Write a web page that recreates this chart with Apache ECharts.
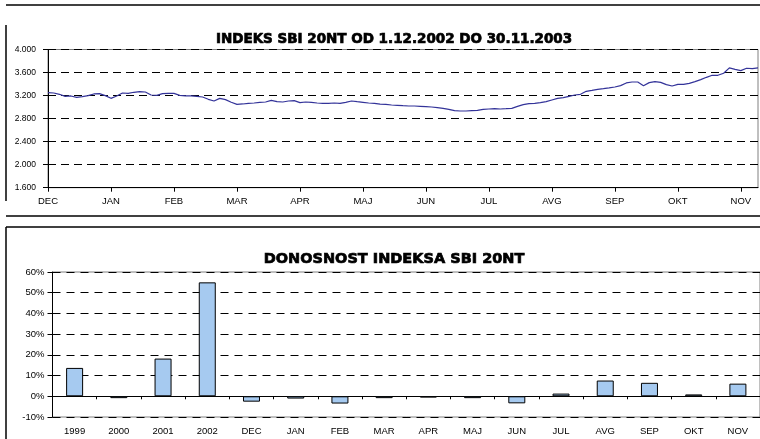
<!DOCTYPE html>
<html>
<head>
<meta charset="utf-8">
<script src="https://cdn.jsdelivr.net/npm/echarts@6/dist/echarts.min.js"></script>
<style>html,body{margin:0;padding:0;background:#fff}#c{width:760px;height:439px}</style>
</head>
<body>
<div id="c"></div>
<script>
// Top chart: SBI 20NT index, 1.12.2002 - 30.11.2003 (sampled trading days)
var monthLabels = ['DEC','JAN','FEB','MAR','APR','MAJ','JUN','JUL','AVG','SEP','OKT','NOV'];
var indexValues = [
  3251,3245,3222,3187,3193,3170,3181,3199,3228,3233,3199,3152,3193,3245,3239,3257,3268,3262,3210,3204,
  3233,3239,3239,3204,3193,3193,3187,3175,3135,3106,3152,3129,3083,3048,3054,3065,3071,3083,3088,3117,
  3094,3088,3106,3112,3077,3088,3083,3071,3065,3065,3071,3065,3083,3106,3094,3083,3071,3065,3053,3048,
  3036,3030,3024,3019,3019,3013,3007,3001,2990,2978,2961,2938,2932,2932,2938,2943,2961,2967,2972,2967,
  2972,2978,3013,3042,3059,3065,3077,3094,3123,3152,3164,3187,3210,3222,3274,3291,3309,3320,3332,3349,
  3372,3419,3436,3436,3372,3425,3442,3430,3390,3366,3395,3395,3413,3442,3477,3517,3552,3552,3587,3680,
  3656,3633,3674,3668,3680
];
var pointsPerMonth = 11;
// Bottom chart: returns
var barCategories = ['1999','2000','2001','2002','DEC','JAN','FEB','MAR','APR','MAJ','JUN','JUL','AVG','SEP','OKT','NOV'];
var barValues = [13.7,-0.9,18.2,55.0,-2.6,-1.1,-3.5,-0.9,-0.6,-0.9,-3.4,1.3,7.6,6.5,0.9,6.1];

var titleTop = 'INDEKS SBI 20NT OD 1.12.2002 DO 30.11.2003';
var titleBottom = 'DONOSNOST INDEKSA SBI 20NT';

var idx = indexValues.map(function(_, i){ return String(i); });
var FONT = 'Liberation Sans, Arial, sans-serif';

var chart = echarts.init(document.getElementById('c'), null, {renderer:'canvas'});
chart.setOption({
  animation: false,
  backgroundColor: '#fff',
  title: [
    {text: titleTop, left: 389, top: 27, textAlign: 'center',
     textStyle:{fontFamily:'DejaVu Sans', fontWeight:'bold', fontSize:13.5, color:'#000',
       textBorderColor:'#000', textBorderWidth:0.7}},
    {text: titleBottom, left: 389, top: 247, textAlign: 'center',
     textStyle:{fontFamily:'DejaVu Sans', fontWeight:'bold', fontSize:14.5, color:'#000',
       textBorderColor:'#000', textBorderWidth:0.7}}
  ],
  graphic: [
    {type:'polyline', shape:{points:[[6,25],[6,201]]}, style:{stroke:'#000', lineWidth:1.5}, silent:true},
    {type:'polyline', shape:{points:[[6,5],[760,5]]}, style:{stroke:'#000', lineWidth:1.5}, silent:true},
    {type:'polyline', shape:{points:[[6,216],[760,216]]}, style:{stroke:'#000', lineWidth:1.5}, silent:true},
    {type:'polyline', shape:{points:[[6,227],[760,227]]}, style:{stroke:'#000', lineWidth:1.5}, silent:true},
    {type:'polyline', shape:{points:[[6,227],[6,439]]}, style:{stroke:'#000', lineWidth:1.5}, silent:true}
  ],
  grid: [
    {left:48, top:49.5, right:2, bottom:251.3, show:true, borderColor:'#808080', borderWidth:1, backgroundColor:'transparent'},
    {left:52.5, top:272, right:-2, bottom:22, show:true, borderColor:'#808080', borderWidth:1, backgroundColor:'transparent'}
  ],
  xAxis: [
    {gridIndex:0, type:'category', data: idx, boundaryGap:false,
     axisLine:{show:true, lineStyle:{color:'#000', width:1}},
     axisTick:{show:true, interval: pointsPerMonth-1, length:4, lineStyle:{color:'#000'}},
     axisLabel:{interval: pointsPerMonth-1, margin:9, fontFamily:FONT, fontSize:9.5, color:'#000',
       formatter:function(v){ var i=+v; return (i%pointsPerMonth===0) ? (monthLabels[i/pointsPerMonth]||'') : ''; }},
     splitLine:{show:false}},
    {gridIndex:1, type:'category', data: barCategories,
     axisLine:{show:false, onZero:false},
     axisTick:{show:false},
     axisLabel:{margin:9, fontFamily:FONT, fontSize:9.5, color:'#000'},
     splitLine:{show:false}},
    {gridIndex:1, type:'category', data: barCategories, position:'bottom',
     axisLine:{show:true, onZero:true, lineStyle:{color:'#000', width:1}},
     axisTick:{show:true, length:3, lineStyle:{color:'#000'}},
     axisLabel:{show:false},
     splitLine:{show:false}}
  ],
  yAxis: [
    {gridIndex:0, type:'value', min:1600, max:4000, interval:400,
     axisLine:{show:true, lineStyle:{color:'#000'}},
     axisTick:{show:true, length:5, lineStyle:{color:'#000'}},
     axisLabel:{margin:12, fontFamily:FONT, fontSize:8.5, color:'#000',
       formatter:function(v){ return (v/1000).toFixed(3); }},
     splitLine:{show:true, lineStyle:{color:'#000', type:[8,5], width:1}}},
    {gridIndex:1, type:'value', min:-10, max:60, interval:10,
     axisLine:{show:true, lineStyle:{color:'#000'}},
     axisTick:{show:true, length:5, lineStyle:{color:'#000'}},
     axisLabel:{margin:8, fontFamily:FONT, fontSize:9.5, color:'#000',
       formatter:function(v){ return v + '%'; }},
     splitLine:{show:true, lineStyle:{color:'#000', type:[8,6], width:1}}}
  ],
  series: [
    {type:'line', xAxisIndex:0, yAxisIndex:0, data:indexValues, showSymbol:false, symbol:'none',
     lineStyle:{color:'#333399', width:1.2}},
    {type:'bar', xAxisIndex:2, yAxisIndex:1, data:barValues, barWidth:17,
     itemStyle:{color:'#a6caf0', borderColor:'#000', borderWidth:1}}
  ]
});
</script>
</body>
</html>
